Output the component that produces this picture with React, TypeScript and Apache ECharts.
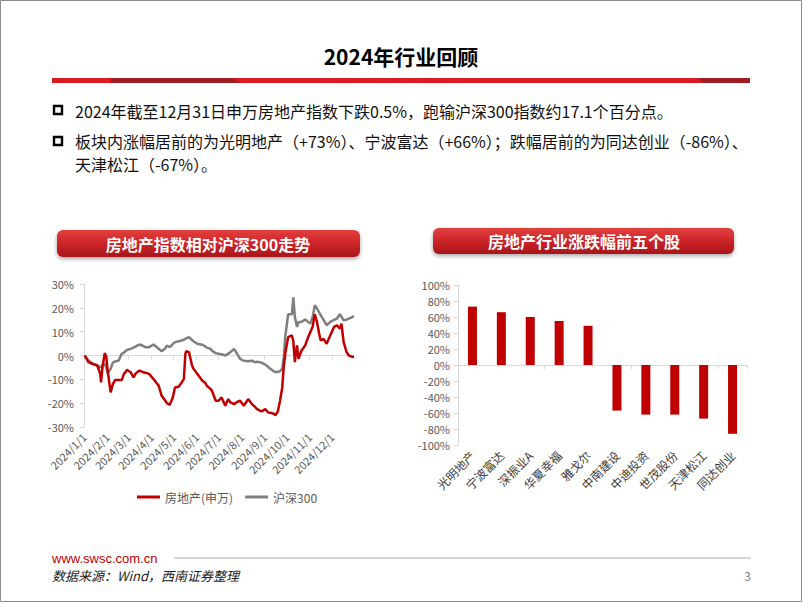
import React, { useEffect, useRef } from 'react';
import * as echarts from 'echarts';

// ---- Line chart data (cumulative change, %) ----
const lineDates = [
  '2024/1/2', '2024/1/7', '2024/1/12', '2024/1/19', '2024/1/23', '2024/1/24', '2024/1/26', '2024/1/29', '2024/1/31',
  '2024/2/2', '2024/2/6', '2024/2/9', '2024/2/12', '2024/2/17', '2024/2/21', '2024/2/24', '2024/2/26', '2024/2/28',
  '2024/3/4', '2024/3/8', '2024/3/11', '2024/3/13', '2024/3/16', '2024/3/21', '2024/3/24', '2024/3/29',
  '2024/4/4', '2024/4/11', '2024/4/15', '2024/4/20', '2024/4/22', '2024/4/26', '2024/4/30',
  '2024/5/3', '2024/5/8', '2024/5/12', '2024/5/15', '2024/5/17', '2024/5/18', '2024/5/22', '2024/5/26', '2024/5/28',
  '2024/6/2', '2024/6/9', '2024/6/13', '2024/6/15', '2024/6/20', '2024/6/22', '2024/6/27',
  '2024/7/1', '2024/7/5', '2024/7/10', '2024/7/14', '2024/7/17', '2024/7/22', '2024/7/26', '2024/7/30',
  '2024/8/4', '2024/8/10', '2024/8/15', '2024/8/19', '2024/8/22', '2024/8/28',
  '2024/9/2', '2024/9/6', '2024/9/9', '2024/9/13', '2024/9/16', '2024/9/19', '2024/9/22', '2024/9/25', '2024/9/27', '2024/9/29',
  '2024/10/3', '2024/10/8', '2024/10/10', '2024/10/12', '2024/10/15', '2024/10/17', '2024/10/21', '2024/10/26', '2024/10/30',
  '2024/11/2', '2024/11/5', '2024/11/8', '2024/11/11', '2024/11/14', '2024/11/16', '2024/11/20', '2024/11/24', '2024/11/29',
  '2024/12/4', '2024/12/8', '2024/12/12', '2024/12/14', '2024/12/17', '2024/12/21', '2024/12/24', '2024/12/28', '2024/12/31',
];
const realEstate = [
  0, -2.8, -3.5, -4.2, -7.7, -11.3, -4.9, 1.0, -0.4,
  -6.3, -15.5, -12.0, -10.3, -10.3, -10.3, -7.7, -7.0, -6.0,
  -7.0, -9.2, -7.5, -7.0, -6.3, -7.0, -7.2, -7.7,
  -9.9, -12.7, -16.9, -19.0, -20.0, -20.7, -17.6,
  -13.4, -13.1, -11.3, -9.9, 0.5, 1.8, 1.4, -4.2, -5.5,
  -7.7, -10.6, -11.5, -12.7, -14.0, -14.8, -19.0,
  -19.0, -17.6, -21.1, -18.3, -19.7, -20.4, -19.5, -19.0,
  -21.1, -18.3, -20.4, -21.5, -22.5, -23.5,
  -22.5, -23.9, -24.0, -24.4, -25.0, -23.5, -19.0, -13.4, -4.9, 0.7,
  7.7, 8.5, 6.0, -2.8, 4.2, -1.4, 2.1, 4.2, 7.7,
  9.9, 12.0, 17.3, 14.0, 9.0, 6.3, 7.0, 4.9, 8.5,
  12.0, 12.7, 11.3, 13.4, 5.6, 1.4, 0.0, -0.5, -0.5,
];
const hs300 = [
  0, -2.1, -3.2, -4.2, -4.9, -5.0, -4.0, -3.5, -5.0,
  -7.5, -5.6, -3.0, -2.5, -2.1, 0.7, 1.2, 1.8, 2.3,
  2.8, 3.3, 3.8, 4.2, 4.6, 4.0, 3.5, 3.5,
  4.6, 2.8, 1.8, 3.0, 4.2, 3.5, 4.8,
  5.6, 6.0, 6.3, 6.7, 7.0, 7.2, 7.7, 6.5, 6.0,
  4.9, 4.5, 3.8, 3.3, 2.8, 2.0, 1.0,
  0.7, 0.5, 0.0, 0.8, 1.4, 2.8, 0.7, -1.4,
  -2.2, -2.4, -2.2, -2.8, -2.6, -3.0,
  -3.8, -4.8, -5.6, -6.5, -7.0, -6.8, -6.6, -5.5, -1.0, 7.7,
  17.3, 17.3, 24.4, 16.2, 12.0, 14.1, 14.1, 15.1, 14.1,
  13.4, 16.0, 21.1, 19.7, 18.0, 16.9, 14.8, 12.7, 14.1,
  15.0, 15.5, 17.3, 16.3, 14.8, 15.0, 15.5, 16.0, 16.6,
];
const lineYTicks = { min: -30, max: 30, interval: 10 };

// ---- Bar chart data ----
const barStocks = ['光明地产', '宁波富达', '深振业A', '华夏幸福', '雅戈尔', '中南建设', '中迪投资', '世茂股份', '天津松江', '同达创业'];
const barValues = [73, 66, 60, 55, 49, -57, -62, -62, -67, -86];
const barYTicks = { min: -100, max: 100, interval: 20 };

const FONT = '"Noto Sans CJK SC", "Noto Sans", sans-serif';

function buildDays(): string[] {
  const out: string[] = [];
  for (let i = 0; i < 366; i++) {
    const d = new Date(2024, 0, 1 + i);
    out.push(`${d.getFullYear()}/${d.getMonth() + 1}/${d.getDate()}`);
  }
  return out;
}

export default function App() {
  const ref = useRef<HTMLDivElement>(null);
  useEffect(() => {
    if (!ref.current) return;
    const chart = echarts.init(ref.current, null, { renderer: 'svg', width: 802, height: 602 });
    const days = buildDays();
    const isMonthStart = (_i: number, v: string) => String(v).split('/')[2] === '1';
    const axisGrey = '#d9d9d9';
    const labelGrey = '#595959';

    const option: any = {
      animation: false,
      backgroundColor: '#ffffff',
      textStyle: { fontFamily: FONT },
      legend: {
        data: ['房地产(申万)', '沪深300'],
        left: 132,
        top: 486,
        icon: 'rect',
        itemWidth: 23,
        itemHeight: 3,
        itemGap: 12,
        textStyle: { fontSize: 12, color: labelGrey, fontFamily: FONT },
      },
      grid: [
        { left: 84, right: 448, top: 284, bottom: 175, containLabel: false },
        { left: 458, right: 55, top: 285, bottom: 157, containLabel: false },
      ],
      xAxis: [
        {
          type: 'category', gridIndex: 0, data: days, boundaryGap: false, position: 'bottom',
          axisLine: { show: false, onZero: false }, axisTick: { show: false },
          axisLabel: { interval: isMonthStart, rotate: 45, fontSize: 11, color: labelGrey, margin: 8, fontFamily: FONT },
          splitLine: { show: false },
        },
        {
          type: 'category', gridIndex: 0, data: days, boundaryGap: false, position: 'bottom',
          axisLine: { show: true, onZero: true, lineStyle: { color: axisGrey, width: 1 } },
          axisTick: { show: true, interval: isMonthStart, length: 4, lineStyle: { color: axisGrey } },
          axisLabel: { show: false }, splitLine: { show: false },
        },
        {
          type: 'category', gridIndex: 1, data: barStocks, position: 'bottom',
          axisLine: { show: false, onZero: false }, axisTick: { show: false },
          axisLabel: { interval: 0, rotate: 45, fontSize: 12, color: '#404040', margin: 8, fontFamily: FONT },
          splitLine: { show: false },
        },
        {
          type: 'category', gridIndex: 1, data: barStocks, position: 'bottom',
          axisLine: { show: true, onZero: true, lineStyle: { color: axisGrey, width: 1 } },
          axisTick: { show: true, length: 4, lineStyle: { color: axisGrey } },
          axisLabel: { show: false }, splitLine: { show: false },
        },
      ],
      yAxis: [
        {
          type: 'value', gridIndex: 0, ...lineYTicks,
          axisLine: { show: true, lineStyle: { color: axisGrey } },
          axisTick: { show: true, length: 4, lineStyle: { color: axisGrey } },
          axisLabel: { formatter: '{value}%', fontSize: 11, color: labelGrey, margin: 10, fontFamily: FONT },
          splitLine: { show: false },
        },
        {
          type: 'value', gridIndex: 1, ...barYTicks,
          axisLine: { show: true, lineStyle: { color: axisGrey } },
          axisTick: { show: true, length: 4, lineStyle: { color: axisGrey } },
          axisLabel: { formatter: '{value}%', fontSize: 11, color: labelGrey, margin: 8, fontFamily: FONT },
          splitLine: { show: false },
        },
      ],
      series: [
        {
          name: '沪深300', type: 'line', xAxisIndex: 0, yAxisIndex: 0,
          data: lineDates.map((d, i) => [d, hs300[i]]),
          showSymbol: false, symbol: 'none', connectNulls: true,
          lineStyle: { color: '#7f7f7f', width: 2.5 }, itemStyle: { color: '#7f7f7f' },
        },
        {
          name: '房地产(申万)', type: 'line', xAxisIndex: 0, yAxisIndex: 0,
          data: lineDates.map((d, i) => [d, realEstate[i]]),
          showSymbol: false, symbol: 'none', connectNulls: true,
          lineStyle: { color: '#c00000', width: 2.5 }, itemStyle: { color: '#c00000' },
        },
        {
          name: '涨跌幅', type: 'bar', xAxisIndex: 2, yAxisIndex: 1,
          data: barValues, barWidth: 9,
          itemStyle: { color: '#c00000' },
        },
      ],
      graphic: [
        { type: 'rect', shape: { x: 0.5, y: 0.5, width: 801, height: 601 }, style: { fill: 'none', stroke: '#8c8c8c', lineWidth: 1 }, silent: true },
        {
          type: 'text', x: 401, y: 56,
          style: { text: '2024年行业回顾', fontSize: 21, fontWeight: 'bold', fontFamily: FONT, fill: '#000', textAlign: 'center', textVerticalAlign: 'middle' },
        },
        { type: 'rect', shape: { x: 52, y: 78, width: 698, height: 5 }, style: { fill: '#dc1a24' } },
        { type: 'polygon', shape: { points: [[111, 78], [232, 78], [240, 83], [111, 83]] }, style: { fill: '#a11c21' } },
        { type: 'polygon', shape: { points: [[697, 78], [750, 78], [750, 83], [703, 83]] }, style: { fill: '#a11c21' } },
        { type: 'rect', shape: { x: 54, y: 106, width: 8, height: 8 }, style: { fill: 'none', stroke: '#000', lineWidth: 2.4 } },
        { type: 'rect', shape: { x: 54, y: 137, width: 8, height: 8 }, style: { fill: 'none', stroke: '#000', lineWidth: 2.4 } },
        {
          type: 'text', x: 75, y: 111,
          style: { text: '2024年截至12月31日申万房地产指数下跌0.5%，跑输沪深300指数约17.1个百分点。', fontSize: 16, fontFamily: FONT, fill: '#111', textAlign: 'left', textVerticalAlign: 'middle' },
        },
        {
          type: 'text', x: 75, y: 141,
          style: { text: '板块内涨幅居前的为光明地产（+73%）、宁波富达（+66%）；跌幅居前的为同达创业（-86%）、', fontSize: 16, fontFamily: FONT, fill: '#111', textAlign: 'left', textVerticalAlign: 'middle' },
        },
        {
          type: 'text', x: 75, y: 164,
          style: { text: '天津松江（-67%）。', fontSize: 16, fontFamily: FONT, fill: '#111', textAlign: 'left', textVerticalAlign: 'middle' },
        },
        {
          type: 'rect', shape: { x: 57, y: 230, width: 303, height: 27, r: 6 },
          style: {
            fill: { type: 'linear', x: 0, y: 0, x2: 0, y2: 1, colorStops: [{ offset: 0, color: '#e2403f' }, { offset: 0.5, color: '#cc2529' }, { offset: 1, color: '#a8161b' }] },
            shadowBlur: 4, shadowColor: 'rgba(0,0,0,0.35)', shadowOffsetY: 2,
          },
        },
        {
          type: 'text', x: 208, y: 243.5,
          style: { text: '房地产指数相对沪深300走势', fontSize: 16, fontWeight: 'bold', fontFamily: FONT, fill: '#ffffff', textAlign: 'center', textVerticalAlign: 'middle' },
        },
        {
          type: 'rect', shape: { x: 433, y: 228, width: 301, height: 26, r: 6 },
          style: {
            fill: { type: 'linear', x: 0, y: 0, x2: 0, y2: 1, colorStops: [{ offset: 0, color: '#e2403f' }, { offset: 0.5, color: '#cc2529' }, { offset: 1, color: '#a8161b' }] },
            shadowBlur: 4, shadowColor: 'rgba(0,0,0,0.35)', shadowOffsetY: 2,
          },
        },
        {
          type: 'text', x: 584, y: 241,
          style: { text: '房地产行业涨跌幅前五个股', fontSize: 16, fontWeight: 'bold', fontFamily: FONT, fill: '#ffffff', textAlign: 'center', textVerticalAlign: 'middle' },
        },
        {
          type: 'text', x: 52, y: 558,
          style: { text: 'www.swsc.com.cn', fontSize: 13, fontFamily: '"Liberation Sans", Arial, sans-serif', fill: '#c00000', textAlign: 'left', textVerticalAlign: 'middle' },
        },
        { type: 'line', shape: { x1: 174, y1: 558, x2: 751, y2: 558 }, style: { stroke: '#c8c8c8', lineWidth: 1.5 } },
        {
          type: 'text', x: 52, y: 575,
          style: { text: '数据来源：Wind，西南证券整理', fontSize: 13, fontStyle: 'italic', fontFamily: FONT, fill: '#222', textAlign: 'left', textVerticalAlign: 'middle' },
        },
        {
          type: 'text', x: 751, y: 575,
          style: { text: '3', fontSize: 12, fontFamily: FONT, fill: '#7f7f7f', textAlign: 'right', textVerticalAlign: 'middle' },
        },
      ],
    };
    chart.setOption(option);
    return () => chart.dispose();
  }, []);
  return (
    <div style={{ position: 'fixed', left: 0, top: 0, width: 802, height: 602, background: '#fff' }}>
      <div ref={ref} style={{ width: 802, height: 602 }} />
    </div>
  );
}
